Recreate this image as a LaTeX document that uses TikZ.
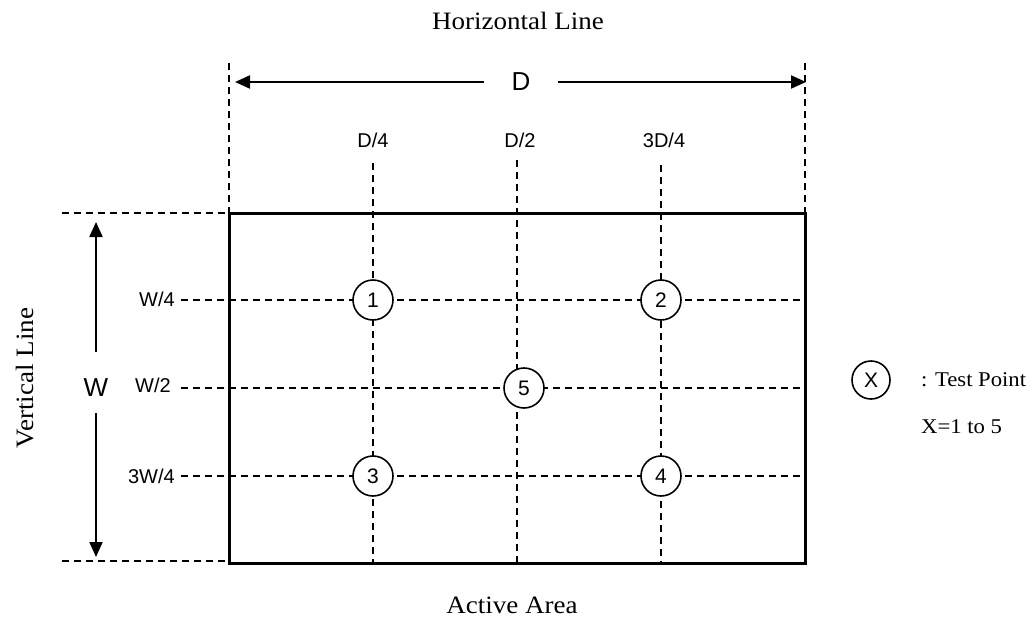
\documentclass[tikz,border=0pt]{standalone}
\usepackage{fontspec}
\newfontfamily\sansf{Liberation Sans}
\newfontfamily\seriff{Liberation Serif}[FakeStretch=1.08]
\usetikzlibrary{arrows.meta}
\begin{document}
\begin{tikzpicture}[x=1pt,y=-1pt,
 dline/.style={line width=1.3pt, dash pattern=on 7pt off 5pt},
 arr/.style={line width=2pt, -{Triangle[length=15pt,width=13pt]}},
 tp/.style={circle, draw, line width=1.6pt, fill=white, minimum size=40pt, inner sep=0pt, font=\sansf\fontsize{21}{24}\selectfont},
 slab/.style={font=\sansf\fontsize{20}{24}\selectfont, inner sep=0pt},
 big/.style={font=\sansf\fontsize{26}{30}\selectfont, inner sep=0pt},
 ser/.style={font=\seriff\fontsize{25}{30}\selectfont, inner sep=0pt},
 leg/.style={font=\seriff\fontsize{21}{26}\selectfont, inner sep=0pt}]
\useasboundingbox (0,0) rectangle (1030,618);
% corners of the active area
\coordinate (tl) at (229,213);
\coordinate (tr) at (805,213);
\coordinate (bl) at (229,563);
\coordinate (br) at (805,563);
% extension lines
\coordinate (lt0) at (229,63);
\coordinate (rt0) at (805,63);
\coordinate (ht0) at (62,213);
\coordinate (hb0) at (62,561);
\coordinate (hb1) at (229,561);
\draw[dline] (lt0) -- (tl);
\draw[dline] (rt0) -- (tr);
\draw[dline] (ht0) -- (tl);
\draw[dline] (hb0) -- (hb1);
% D dimension
\node[big, inner xsep=27pt] (D) at (521,82) {D};
\coordinate (dA) at (235,82);
\coordinate (dB) at (806,82);
\draw[arr] (D.west) -- (dA);
\draw[arr] (D.east) -- (dB);
% W dimension
\node[big] (W) at (96,388) {W};
\coordinate (wa) at (96,352);
\coordinate (wA) at (96,222);
\coordinate (wb) at (96,413);
\coordinate (wB) at (96,557);
\draw[arr] (wa) -- (wA);
\draw[arr] (wb) -- (wB);
% quarter labels
\node[slab] (d4) at (373,140) {D/4};
\node[slab] (d2) at (520,140) {D/2};
\node[slab] (d34) at (664,140) {3D/4};
\node[slab, anchor=east] (w4) at (175,299) {W/4};
\node[slab, anchor=east] (w2) at (171,385) {W/2};
\node[slab, anchor=east] (w34) at (175,476) {3W/4};
% grid lines
\coordinate (v1t) at (373,163); \coordinate (v1b) at (373,563);
\coordinate (v2t) at (517,160); \coordinate (v2b) at (517,563);
\coordinate (v3t) at (661,165); \coordinate (v3b) at (661,563);
\coordinate (h1a) at (181,300); \coordinate (h1b) at (805,300);
\coordinate (h2a) at (181,388); \coordinate (h2b) at (805,388);
\coordinate (h3a) at (181,476); \coordinate (h3b) at (805,476);
\draw[dline] (v1t) -- (v1b);
\draw[dline] (v2t) -- (v2b);
\draw[dline] (v3t) -- (v3b);
\draw[dline] (h1a) -- (h1b);
\draw[dline] (h2a) -- (h2b);
\draw[dline] (h3a) -- (h3b);
% active area
\draw[line width=3pt] (tl) rectangle (br);
% test points
\node[tp] (p1) at (373,300) {1};
\node[tp] (p2) at (661,300) {2};
\node[tp] (p5) at (524,388) {5};
\node[tp] (p3) at (373,476) {3};
\node[tp] (p4) at (661,476) {4};
% legend
\node[tp, minimum size=38pt] (px) at (871,380) {X};
\node[leg, anchor=base west] (lt) at (921,386) {: Test Point};
\node[leg, anchor=base west] (lx) at (921,433) {X=1 to 5};
% titles
\node[ser, anchor=base] (ht) at (518,30) {Horizontal Line};
\node[ser, anchor=base] (aa) at (512,613) {Active Area};
\node[ser, rotate=90, anchor=base] (vl) at (33,378) {Vertical Line};
\end{tikzpicture}
\end{document}
